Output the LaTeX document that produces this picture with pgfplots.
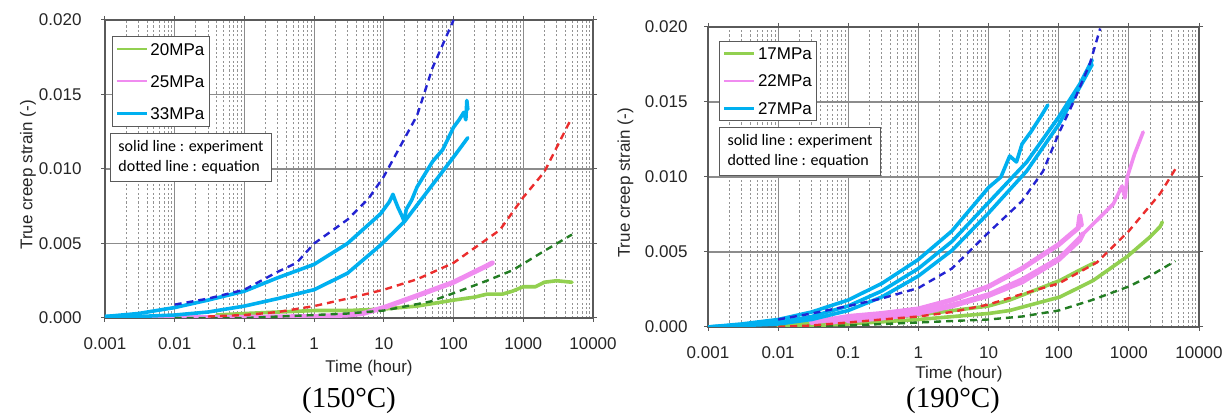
\documentclass[border=0pt]{standalone}
\usepackage{pgfplots}
\pgfplotsset{compat=1.18}
\usepackage{fontspec}
\setmainfont{Liberation Sans}
\newfontfamily\notefont{Carlito}
\newfontfamily\capfont{Liberation Serif}

\definecolor{cgreen}{RGB}{146,208,80}
\definecolor{cpink}{RGB}{240,140,240}
\definecolor{cblue}{RGB}{0,176,240}
\definecolor{dblue}{RGB}{35,35,210}
\definecolor{dred}{RGB}{235,45,45}
\definecolor{dgreen}{RGB}{35,125,35}
\definecolor{gridgray}{RGB}{140,140,140}
\definecolor{framegray}{RGB}{90,90,90}

\tikzset{
  exper/.style={line width=3.6pt, line join=round, line cap=round},
  thickexper/.style={line width=5pt, line join=round, line cap=round},
  eqn/.style={line width=2.4pt, dash pattern=on 7pt off 5pt},
  notebox/.style={draw=framegray, line width=1pt, fill=white, anchor=north west,
    align=left, inner xsep=8pt, inner ysep=7pt,
    font=\notefont\fontsize{16}{20}\selectfont},
}

\begin{document}
\begin{tikzpicture}
\useasboundingbox (0pt,0pt) rectangle (1232pt,414pt);

% ---------------- 150 degC ----------------
\begin{axis}[
  at={(105pt,96pt)}, anchor=south west, width=488pt, height=298pt,
  scale only axis,
  xmode=log, xmin=0.001, xmax=10000, ymin=0, ymax=0.02,
  xtick={0.001,0.01,0.1,1,10,100,1000,10000},
  xticklabels={0.001,0.01,0.1,1,10,100,1000,10000},
  minor xtick={0.002,0.003,0.004,0.005,0.006,0.007,0.008,0.009,
               0.02,0.03,0.04,0.05,0.06,0.07,0.08,0.09,
               0.2,0.3,0.4,0.5,0.6,0.7,0.8,0.9,
               2,3,4,5,6,7,8,9,
               20,30,40,50,60,70,80,90,
               200,300,400,500,600,700,800,900,
               2000,3000,4000,5000,6000,7000,8000,9000},
  ytick={0,0.005,0.01,0.015,0.02},
  yticklabels={0.000,0.005,0.010,0.015,0.020},
  scaled y ticks=false,
  xmajorgrids, ymajorgrids, xminorgrids,
  major grid style={draw=gridgray, line width=1.1pt},
  minor grid style={draw=gray!85, line width=0.7pt, dash pattern=on 2.2pt off 2.2pt},
  axis line style={draw=framegray, line width=1.3pt},
  tick align=outside, major tick length=4pt, minor tick length=0pt,
  tick style={draw=framegray, line width=1pt},
  tick label style={font=\fontsize{17}{20}\selectfont, text=black!85},
  xticklabel style={yshift=-12pt},
  yticklabel style={xshift=-16pt},
  label style={font=\fontsize{17}{20}\selectfont, text=black!85},
  xlabel={Time (hour)},
  ylabel={True creep strain (-)},
  xlabel style={at={(axis description cs:0.541,-0.168)}, anchor=center},
  ylabel style={at={(axis description cs:-0.158,0.48)}, anchor=center},
  legend cell align=left,
  legend image code/.code={\draw[#1] (0pt,0pt) -- (30pt,0pt);},
  legend style={at={(axis description cs:0.0143,0.947)}, anchor=north west,
    draw=framegray, line width=1pt, fill=white,
    font=\fontsize{17}{17}\selectfont, inner xsep=3pt, inner ysep=5pt,
    nodes={text height=12pt, text depth=0pt, inner sep=2pt}, row sep=16pt},
]
\addlegendimage{cgreen, line width=2pt}\addlegendentry{20MPa}
\addlegendimage{cpink, line width=2.2pt}\addlegendentry{25MPa}
\addlegendimage{cblue, line width=3pt}\addlegendentry{33MPa}

% 20 MPa, experiment
\addplot[cgreen, exper, forget plot] coordinates {
  (0.04,0.0002)(0.1,0.0003)(0.3,0.0004)(1,0.0005)(3,0.0005)(10,0.0006)
  (30,0.0008)(100,0.0012)(200,0.0014)(300,0.0016)(500,0.0016)(700,0.0018)
  (1000,0.0021)(1500,0.0021)(2000,0.0024)(3000,0.0025)(5000,0.0024)};
% 25 MPa, experiment
\addplot[cpink, thickexper, forget plot] coordinates {
  (0.005,0.0000)(0.1,0.00005)(1,0.0001)(3,0.0002)(5,0.0003)(10,0.0007)
  (30,0.0015)(100,0.0024)(200,0.0031)(300,0.0035)(360,0.0037)};
% 33 MPa, experiments
\addplot[cblue, exper, forget plot] coordinates {
  (0.001,0.0001)(0.003,0.0003)(0.01,0.0007)(0.03,0.0012)(0.1,0.0018)
  (0.3,0.0027)(1,0.0036)(3,0.0050)(9,0.0070)(12,0.0078)(13.5,0.0083)
  (14.5,0.0079)(16,0.0074)(18,0.0069)(19.5,0.0065)(21,0.0073)(25,0.0079)
  (30,0.0088)(50,0.0105)(70,0.0113)(100,0.0128)(120,0.0133)(140,0.0138)
  (150,0.0133)(155,0.0146)(160,0.0140)};
\addplot[cblue, exper, forget plot] coordinates {
  (0.001,0.0001)(0.003,0.0001)(0.01,0.0002)(0.03,0.0004)(0.1,0.0008)
  (0.3,0.0013)(1,0.0019)(3,0.0030)(9,0.0049)(20,0.0065)(57,0.0093)
  (100,0.0108)(160,0.0121)};
% equations
\addplot[dgreen, eqn, forget plot] coordinates {
  (0.01,0.0000)(0.1,0.0000)(1,0.0002)(3,0.0003)(10,0.0005)(46,0.0011)
  (120,0.0018)(300,0.0025)(700,0.0032)(2000,0.0045)(5000,0.0056)};
\addplot[dred, eqn, forget plot] coordinates {
  (0.03,0.0001)(0.1,0.0002)(0.3,0.0004)(1,0.0008)(3,0.0013)(10,0.0019)
  (30,0.0026)(100,0.0037)(200,0.0047)(460,0.0059)(1000,0.0081)
  (2000,0.0098)(4900,0.0134)};
\addplot[dblue, eqn, forget plot] coordinates {
  (0.01,0.0009)(0.03,0.0013)(0.1,0.0019)(0.3,0.0031)(0.56,0.0037)
  (1,0.0050)(3,0.0066)(6,0.0080)(10,0.0095)(30,0.0136)(50,0.0168)
  (100,0.0200)};

\node[notebox] at (axis description cs:0.0102,0.620)
  {solid line : experiment\\dotted line : equation};
\end{axis}

% ---------------- 190 degC ----------------
\begin{axis}[
  at={(708pt,87pt)}, anchor=south west, width=491pt, height=300pt,
  scale only axis,
  xmode=log, xmin=0.001, xmax=10000, ymin=0, ymax=0.02,
  xtick={0.001,0.01,0.1,1,10,100,1000,10000},
  xticklabels={0.001,0.01,0.1,1,10,100,1000,10000},
  minor xtick={0.002,0.003,0.004,0.005,0.006,0.007,0.008,0.009,
               0.02,0.03,0.04,0.05,0.06,0.07,0.08,0.09,
               0.2,0.3,0.4,0.5,0.6,0.7,0.8,0.9,
               2,3,4,5,6,7,8,9,
               20,30,40,50,60,70,80,90,
               200,300,400,500,600,700,800,900,
               2000,3000,4000,5000,6000,7000,8000,9000},
  ytick={0,0.005,0.01,0.015,0.02},
  yticklabels={0.000,0.005,0.010,0.015,0.020},
  scaled y ticks=false,
  xmajorgrids, ymajorgrids, xminorgrids,
  major grid style={draw=gridgray, line width=1.1pt},
  minor grid style={draw=gray!85, line width=0.7pt, dash pattern=on 2.2pt off 2.2pt},
  axis line style={draw=framegray, line width=1.3pt},
  tick align=outside, major tick length=4pt, minor tick length=0pt,
  tick style={draw=framegray, line width=1pt},
  tick label style={font=\fontsize{17}{20}\selectfont, text=black!85},
  xticklabel style={yshift=-12pt},
  yticklabel style={xshift=-13pt},
  label style={font=\fontsize{17}{20}\selectfont, text=black!85},
  xlabel={Time (hour)},
  ylabel={True creep strain (-)},
  xlabel style={at={(axis description cs:0.511,-0.158)}, anchor=center},
  ylabel style={at={(axis description cs:-0.168,0.48)}, anchor=center},
  legend cell align=left,
  legend image code/.code={\draw[#1] (0pt,0pt) -- (30pt,0pt);},
  legend style={at={(axis description cs:0.0224,0.954)}, anchor=north west,
    draw=framegray, line width=1pt, fill=white,
    font=\fontsize{17}{17}\selectfont, inner xsep=3pt, inner ysep=4pt,
    nodes={text height=12pt, text depth=0pt, inner sep=2pt}, row sep=11.5pt},
]
\addlegendimage{cgreen, line width=3pt}\addlegendentry{17MPa}
\addlegendimage{cpink, line width=1.8pt}\addlegendentry{22MPa}
\addlegendimage{cblue, line width=3.5pt}\addlegendentry{27MPa}

% 17 MPa, experiments
\addplot[cgreen, exper, forget plot] coordinates {
  (0.01,0.0000)(0.1,0.0002)(1,0.0005)(10,0.0009)(20,0.0011)(104,0.0020)
  (310,0.0031)(950,0.0047)(2000,0.0060)(2800,0.0067)(3000,0.0070)};
\addplot[cgreen, exper, forget plot] coordinates {
  (0.01,0.0001)(0.1,0.0004)(1,0.0008)(10,0.0014)(20,0.0018)(104,0.0031)
  (200,0.0038)(330,0.0043)};
% 22 MPa, experiments
\addplot[cpink, thickexper, forget plot] coordinates {
  (0.1,0.0004)(0.3,0.0006)(1,0.0009)(3,0.0014)(10,0.0021)(30,0.0030)
  (100,0.0045)(200,0.0058)(220,0.0062)};
\addplot[cpink, thickexper, forget plot] coordinates {
  (0.03,0.0003)(0.1,0.0007)(0.3,0.0009)(1,0.0012)(3,0.0018)(10,0.0027)
  (30,0.0039)(100,0.0055)(150,0.0062)(190,0.0066)(200,0.0074)(210,0.0068)};
\addplot[cpink, exper, forget plot] coordinates {
  (0.05,0.0002)(0.1,0.0005)(0.3,0.0008)(1,0.0010)(3,0.0015)(10,0.0022)
  (30,0.0032)(100,0.0046)(300,0.0068)(600,0.0082)(800,0.0094)(880,0.0086)
  (950,0.0100)(1200,0.0115)(1600,0.0130)};
% 27 MPa, experiments
\addplot[cblue, exper, forget plot] coordinates {
  (0.001,0.0000)(0.003,0.0002)(0.01,0.0005)(0.03,0.0010)(0.1,0.0018)
  (0.3,0.0029)(1,0.0045)(3,0.0064)(10,0.0093)(15,0.0100)(20,0.0114)
  (25,0.0110)(30,0.0122)(40,0.0130)(55,0.0140)(70,0.0148)};
\addplot[cblue, exper, forget plot] coordinates {
  (0.001,0.0000)(0.01,0.0003)(0.03,0.0007)(0.1,0.0014)(0.3,0.0024)
  (1,0.0039)(3,0.0057)(10,0.0083)(35,0.0110)(100,0.0140)(200,0.0162)
  (300,0.0178)};
\addplot[cblue, exper, forget plot] coordinates {
  (0.001,0.0000)(0.01,0.0002)(0.03,0.0005)(0.1,0.0011)(0.3,0.0020)
  (1,0.0034)(3,0.0051)(10,0.0076)(35,0.0104)(100,0.0135)(200,0.0160)
  (300,0.0175)};
% equations
\addplot[dgreen, eqn, forget plot] coordinates {
  (0.01,0.0000)(0.1,0.0001)(1,0.0003)(3,0.0004)(10,0.0005)(30,0.0007)
  (100,0.0011)(300,0.0018)(1000,0.0027)(2000,0.0034)(4600,0.0044)};
\addplot[dred, eqn, forget plot] coordinates {
  (0.01,0.0000)(0.03,0.0001)(0.1,0.0003)(0.3,0.0005)(1,0.0007)(3,0.0010)
  (10,0.0015)(30,0.0022)(100,0.0029)(350,0.0043)(1000,0.0064)
  (2800,0.0089)(4700,0.0106)};
\addplot[dblue, eqn, forget plot] coordinates {
  (0.01,0.0005)(0.03,0.0009)(0.1,0.0014)(0.3,0.0019)(1,0.0026)(3,0.0039)
  (10,0.0063)(30,0.0084)(60,0.0104)(100,0.0129)(170,0.0152)(280,0.0176)
  (390,0.0199)};

\node[notebox] at (axis description cs:0.0224,0.667)
  {solid line : experiment\\dotted line : equation};
\end{axis}

% panel captions
\node[anchor=base, font=\capfont\fontsize{29}{34}\selectfont] at (349pt,6pt) {(150°C)};
\node[anchor=base, font=\capfont\fontsize{29}{34}\selectfont] at (953pt,6pt) {(190°C)};
\end{tikzpicture}
\end{document}
